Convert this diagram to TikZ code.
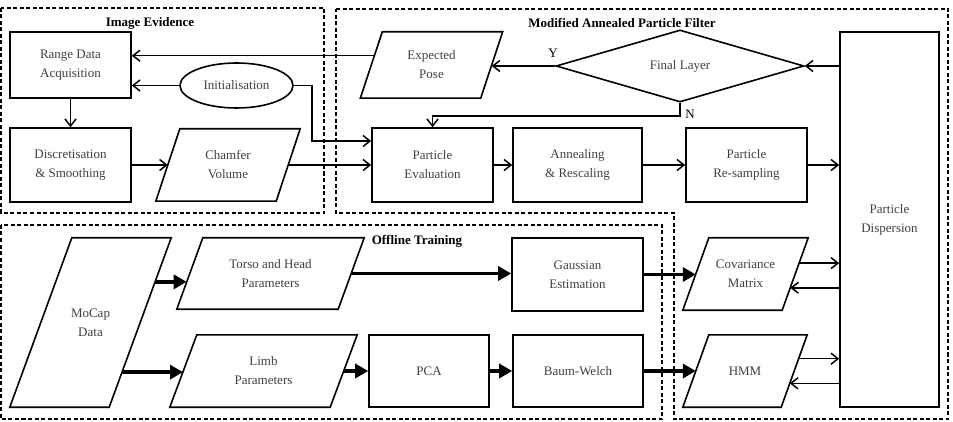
\documentclass[tikz,border=0pt]{standalone}
\usepackage{fontspec}
\setmainfont{Liberation Serif}
\usetikzlibrary{shapes.geometric,arrows.meta,calc}
\tikzset{
  grp/.style={line width=1.6pt, dash pattern=on 4pt off 2.5pt},
  lbl/.style={font=\fontsize{13}{16}\selectfont\bfseries, inner sep=0pt},
  txt/.style={font=\fontsize{13}{19}\selectfont, text=black!75, align=center, inner sep=0pt},
  box/.style={txt, draw, line width=1.6pt, rectangle},
  para/.style={txt, rectangle},
  pline/.style={line width=1.6pt, line join=miter},
  ell/.style={txt, draw, line width=1.6pt, ellipse},
  dia/.style={txt, draw, line width=1.6pt, diamond},
  arr/.style={line width=1.5pt, -{Straight Barb[length=7pt,width=11pt]}},
  tarr/.style={line width=3.5pt, -{Triangle[length=13pt,width=14pt]}},
  yn/.style={font=\fontsize{13}{16}\selectfont, inner sep=0pt},
}
% outline of a parallelogram round node #1, slant #2 (pt)
\newcommand\drawpara[2]{%
  \draw[pline] ([xshift=#2/2]#1.north west) -- ([xshift=#2/2]#1.north east)
    -- ([xshift=-#2/2]#1.south east) -- ([xshift=-#2/2]#1.south west) -- cycle;}
\begin{document}
\begin{tikzpicture}[x=1pt,y=-1pt]
\useasboundingbox (0,0) rectangle (953,422);
% group frames
\draw[grp] (1,8) rectangle (324,213);
\draw[grp] (336,9) -- (948,9) -- (948,419) -- (674,419) -- (674,213) -- (336,213) -- cycle;
\draw[grp] (1,225) rectangle (662,419);
\node[lbl] (lie) at (150,23) {Image Evidence};
\node[lbl] (lmapf) at (622,23) {Modified Annealed Particle Filter};
\node[lbl] (loff) at (417,241) {Offline Training};
% nodes
\node[box, minimum width=121pt, minimum height=66pt] (range) at (70.5,65) {Range Data\\Acquisition};
\node[box, minimum width=121pt, minimum height=74pt] (disc) at (70.5,165) {Discretisation\\\& Smoothing};
\node[ell, minimum width=113pt, minimum height=45pt] (init) at (236.5,85.5) {Initialisation};
\node[para, minimum width=120pt, minimum height=72pt] (ch) at (228,165) {Chamfer\\Volume};
\drawpara{ch}{24}
\node[para, minimum width=120pt, minimum height=66pt] (ep) at (431.5,65) {Expected\\Pose};
\drawpara{ep}{22}
\node[dia, minimum width=248pt, minimum height=68pt] (dia) at (680,66) {Final Layer};
\node[box, minimum width=121pt, minimum height=74pt] (pe) at (432.5,165) {Particle\\Evaluation};
\node[box, minimum width=129pt, minimum height=74pt] (ann) at (577.5,165) {Annealing\\\& Rescaling};
\node[box, minimum width=121pt, minimum height=74pt] (rs) at (746.5,165) {Particle\\Re-sampling};
\node[box, minimum width=99pt, minimum height=375pt] (pd) at (889.5,219.5) {Particle\\Dispersion};
\node[para, minimum width=99pt, minimum height=169pt] (mc) at (90.5,322.5) {MoCap\\Data};
\drawpara{mc}{62}
\node[para, minimum width=161pt, minimum height=71pt] (torso) at (270.5,273.5) {Torso and Head\\Parameters};
\drawpara{torso}{26}
\node[para, minimum width=160pt, minimum height=72pt] (limb) at (263.5,371) {Limb\\Parameters};
\drawpara{limb}{27}
\node[box, minimum width=131pt, minimum height=73pt] (gauss) at (577.5,274.5) {Gaussian\\Estimation};
\node[box, minimum width=120pt, minimum height=72pt] (pca) at (429,371) {PCA};
\node[box, minimum width=130pt, minimum height=72pt] (bw) at (578,371) {Baum-Welch};
\node[para, minimum width=99pt, minimum height=72pt] (cov) at (745.5,274) {Covariance\\Matrix};
\drawpara{cov}{26}
\node[para, minimum width=98pt, minimum height=72pt] (hmm) at (745,371) {HMM};
\drawpara{hmm}{26}
% thin connectors
\coordinate (epL) at ($([xshift=11pt]ep.north west)!0.36!([xshift=-11pt]ep.south west)$);
\draw[arr] (epL) -- (epL -| range.east);
\draw[arr] (init.west) -- (init.west -| range.east);
\draw[arr] (range.south) -- (disc.north);
\draw[arr] (disc.east) -- (ch.west);
\coordinate (ibend) at (312,85.5);
\coordinate (peA) at ($(pe.west)+(0,-24)$);
\draw[line width=1.5pt] (init.east) -- (ibend);
\draw[arr] (ibend) |- (peA);
\draw[arr] (ch.east) -- (ch.east -| pe.west);
\draw[arr] (pe.east) -- (ann.west);
\draw[arr] (ann.east) -- (rs.west);
\draw[arr] (rs.east) -- (rs.east -| pd.west);
\draw[arr] (dia.east -| pd.west) -- (dia.east);
\draw[arr] (dia.west) -- (dia.west -| ep.east);
\draw[arr] (dia.south) -- ++(0,13) -| (pe.north);
\node[yn] (ylab) at (553,53) {Y};
\node[yn] (nlab) at (690,114) {N};
\coordinate (covA) at ($([xshift=13pt]cov.north east)!0.35!([xshift=-13pt]cov.south east)$);
\coordinate (covB) at ($([xshift=13pt]cov.north east)!0.69!([xshift=-13pt]cov.south east)$);
\draw[arr] (covA) -- (covA -| pd.west);
\draw[arr] (covB -| pd.west) -- (covB);
\coordinate (hmmA) at ($([xshift=13pt]hmm.north east)!0.33!([xshift=-13pt]hmm.south east)$);
\coordinate (hmmB) at ($([xshift=13pt]hmm.north east)!0.67!([xshift=-13pt]hmm.south east)$);
\draw[arr] (hmmA) -- (hmmA -| pd.west);
\draw[arr] (hmmB -| pd.west) -- (hmmB);
% thick connectors
\coordinate (mcA) at ($([xshift=31pt]mc.north east)!0.26!([xshift=-31pt]mc.south east)$);
\coordinate (tL) at ($([xshift=13pt]torso.north west)!0.62!([xshift=-13pt]torso.south west)$);
\draw[tarr] (mcA) -- (mcA -| tL);
\coordinate (mcB) at ($([xshift=31pt]mc.north east)!0.793!([xshift=-31pt]mc.south east)$);
\coordinate (lL) at ($([xshift=13.5pt]limb.north west)!0.51!([xshift=-13.5pt]limb.south west)$);
\draw[tarr] (mcB) -- (mcB -| lL);
\draw[tarr] (torso.east) -- (torso.east -| gauss.west);
\draw[tarr] (limb.east) -- (limb.east -| pca.west);
\draw[tarr] (pca.east) -- (bw.west);
\draw[tarr] (gauss.east) -- (gauss.east -| cov.west);
\draw[tarr] (bw.east) -- (bw.east -| hmm.west);
\end{tikzpicture}
\end{document}
